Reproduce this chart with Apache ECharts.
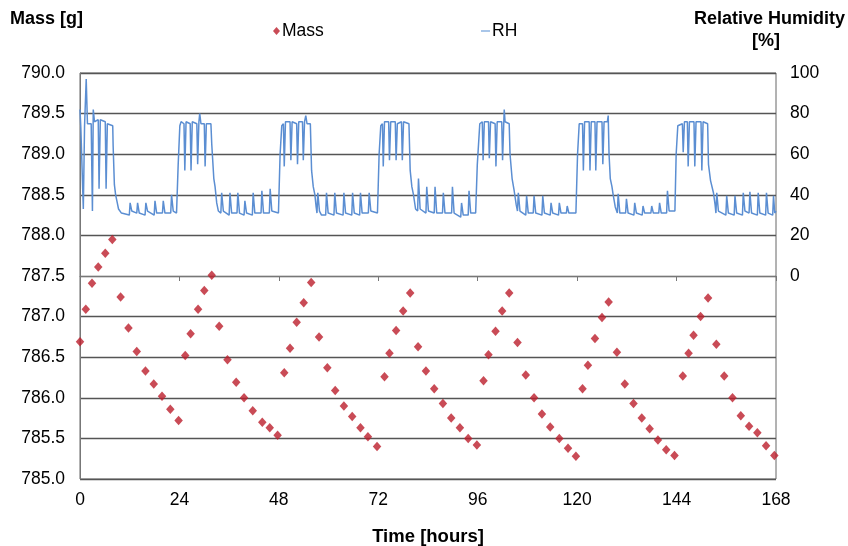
<!DOCTYPE html>
<html><head><meta charset="utf-8">
<script src="https://cdn.jsdelivr.net/npm/echarts@6/dist/echarts.min.js"></script>
<style>html,body{margin:0;padding:0;background:#fff}#c{width:848px;height:546px}</style>
</head><body><div id="c"></div>
<script>
const massHours = [0,1.4,2.9,4.4,6.1,7.8,9.8,11.7,13.7,15.8,17.8,19.8,21.8,23.8,25.4,26.7,28.5,30.0,31.8,33.6,35.6,37.7,39.6,41.7,44.0,45.8,47.7,49.3,50.7,52.3,54.0,55.8,57.7,59.7,61.6,63.7,65.7,67.7,69.5,71.7,73.5,74.7,76.3,78.0,79.7,81.6,83.5,85.5,87.6,89.6,91.7,93.7,95.8,97.4,98.6,100.3,101.9,103.6,105.6,107.6,109.6,111.5,113.5,115.7,117.8,119.7,121.3,122.6,124.3,126.0,127.6,129.6,131.5,133.6,135.6,137.5,139.5,141.5,143.5,145.5,146.9,148.1,149.8,151.6,153.6,155.5,157.5,159.5,161.5,163.5,165.6,167.6];
const massValues = [786.69,787.09,787.41,787.61,787.78,787.95,787.24,786.86,786.57,786.33,786.17,786.02,785.86,785.72,786.52,786.79,787.09,787.32,787.51,786.88,786.47,786.19,786.00,785.84,785.70,785.63,785.54,786.31,786.61,786.93,787.17,787.42,786.75,786.37,786.09,785.90,785.77,785.63,785.52,785.40,786.26,786.55,786.83,787.07,787.29,786.63,786.33,786.11,785.93,785.75,785.63,785.50,785.42,786.21,786.53,786.82,787.07,787.29,786.68,786.28,786.00,785.80,785.64,785.50,785.38,785.28,786.11,786.40,786.73,786.99,787.18,786.56,786.17,785.93,785.75,785.62,785.48,785.36,785.29,786.27,786.55,786.77,787.00,787.23,786.66,786.27,786.00,785.78,785.65,785.57,785.41,785.29];
const rhReadings = [
[0,82],[0.2,73],[0.6,73],[0.8,33],[1.1,74],[1.5,97],[1.8,75],[2.7,75],[3.0,32],[3.2,82],[3.5,76],[4.4,77],[4.6,43],[4.9,77],[6.1,76],[6.3,43],[6.6,75],[7.9,74],[8.0,64],[8.3,45],[8.6,40],[9.0,36],[9.3,33],[10,31],[11.9,30],[12.1,36],[12.5,32],[13.7,31],[13.9,36],[14.3,31],[15.7,30],[15.9,36],[16.3,32],[17.9,30],[18.1,37],[18.5,31],[19.9,31],[20.1,37],[20.5,31],[21.9,31],[22.1,40],[22.5,32],[23.3,31],[23.7,55],[24.1,74],[24.4,76],
[25.1,75],[25.3,52],[25.6,76],[26.6,75],[26.8,52],[27.1,76],[28.2,75],[28.4,55],[28.7,76],[28.9,80],[29.2,75],[30.0,75],[30.2,54],[30.5,75],[31.6,75],[31.8,65],[32.3,48],[32.6,44],[33.0,36],[33.4,32],[34.0,31],[34.2,41],[34.6,32],[36.0,30],[36.2,41],[36.6,31],[37.9,31],[38.1,41],[38.5,31],[39.6,30],[39.8,37],[40.2,31],[41.6,30],[41.8,41],[42.2,31],[43.7,31],[43.9,42],[44.3,31],[45.7,31],[45.9,43],[46.3,32],[47.9,31],[48.3,60],[48.7,74],
[49.1,75],[49.3,54],[49.6,76],[50.7,76],[50.9,57],[51.2,76],[52.3,75],[52.5,55],[52.8,76],[53.7,76],[53.9,57],[54.2,76],[54.5,79],[54.8,75],[55.6,75],[55.9,52],[56.3,44],[56.7,40],[57.0,34],[57.2,31],[57.4,41],[57.8,32],[58.3,30],[59.3,30],[59.5,41],[59.9,31],[61.3,30],[61.5,41],[61.9,31],[63.5,30],[63.7,41],[64.1,31],[65.6,30],[65.8,41],[66.2,31],[67.5,30],[67.7,41],[68.1,31],[69.6,31],[69.8,41],[70.2,32],[71.8,31],[72.2,60],[72.6,74],
[73.0,75],[73.2,54],[73.5,76],[74.5,76],[74.7,57],[75.0,76],[76.1,76],[76.3,57],[76.6,75],[77.6,76],[77.8,57],[78.1,76],[79.4,75],[79.7,52],[80.1,44],[80.5,40],[81.0,33],[81.5,32],[81.7,48],[82.1,33],[83.5,31],[83.7,44],[84.1,32],[85.5,31],[85.7,44],[86.1,31],[87.5,31],[87.7,41],[88.1,31],[89.7,31],[89.9,44],[90.3,31],[91.9,29],[92.1,36],[92.5,30],[93.7,30],[93.9,42],[94.3,31],[95.5,31],[95.9,55],[96.5,75],
[97.1,76],[97.3,57],[97.6,76],[98.6,76],[98.8,58],[99.1,76],[100.2,75],[100.4,54],[100.7,76],[101.8,76],[102.0,57],[102.3,76],[102.4,82],[102.6,76],[103.6,75],[103.8,60],[104.3,48],[104.8,42],[105.3,35],[105.6,32],[105.8,41],[106.2,32],[107.6,30],[107.8,39.5],[108.2,31],[109.4,31],[109.6,39.5],[110.0,31],[111.5,30],[111.7,39.5],[112.1,31],[113.5,30],[113.7,36],[114.1,31],[115.5,30],[115.7,36],[116.1,31],[117.4,31],[117.6,34.5],[118.0,31],[119.7,31],[120.1,60],[120.5,75],
[121.3,75],[121.5,52],[121.8,76],[122.9,76],[123.1,52],[123.4,76],[124.3,76],[124.5,52],[124.8,76],[126.0,76],[126.2,55],[126.5,76],[127.3,76],[127.5,79],[127.7,60],[128.0,48],[128.4,44],[128.7,40],[129.2,34],[129.7,31],[129.9,40.5],[130.3,31],[131.7,31],[131.9,38],[132.3,31],[133.7,30],[133.9,36],[134.3,31],[135.7,30],[135.9,34.5],[136.3,31],[137.8,31],[138.0,34.5],[138.4,31],[139.7,31],[139.9,36],[140.3,31],[141.6,31],[141.8,42],[142.2,32],[143.6,32],[143.9,60],[144.3,74],
[145.4,75],[145.6,61],[145.9,76],[146.6,76],[146.8,54],[147.1,76],[148.2,76],[148.4,54],[148.7,76],[149.9,76],[150.1,52],[150.4,76],[151.5,75],[151.7,55],[152.2,47],[152.9,41],[153.3,35],[153.5,31],[153.7,41],[154.1,32],[155.9,30],[156.1,39.5],[156.5,31],[157.9,30],[158.1,39.5],[158.5,31],[159.9,30],[160.1,41],[160.5,32],[161.5,31],[161.7,41.5],[162.1,31],[163.5,30],[163.7,41],[164.1,31],[165.5,30],[165.7,41],[166.1,31],[167.2,30],[167.4,39.5],[167.7,31],[168,32]
];
const xTicks = {min: 0, max: 168, interval: 24};
const massAxis = {min: 785, max: 790, interval: 0.5};
const rhAxis = {min: -100, max: 100, interval: 20};

const chart = echarts.init(document.getElementById('c'), null, {renderer: 'canvas'});
const FONT = '"Liberation Sans", Arial, sans-serif';
chart.setOption({
  animation: false,
  backgroundColor: '#fff',
  textStyle: {fontFamily: FONT},
  grid: {left: 80, right: 72, top: 73, bottom: 67, containLabel: false, outerBoundsMode: 'none',
         show: true, borderColor: '#666', borderWidth: 1, backgroundColor: 'transparent'},
  legend: [
    {data: ['Mass'], left: 268, top: 17, icon: 'diamond', itemWidth: 7, itemHeight: 8, itemGap: 2,
     textStyle: {fontSize: 17.5, color: '#000', fontFamily: FONT, padding: [0,0,0,-3]}},
    {data: ['RH'], left: 476, top: 17, icon: 'rect', itemWidth: 9, itemHeight: 1.5,
     textStyle: {fontSize: 17.5, color: '#000', fontFamily: FONT, padding: [0,0,0,-3]}}
  ],
  graphic: [
    {type: 'text', left: 10, top: 10, style: {text: 'Mass [g]', font: 'bold 18px ' + FONT, fill: '#000'}},
    {type: 'text', right: 3, top: 10, style: {text: 'Relative Humidity', font: 'bold 18px ' + FONT, fill: '#000'}},
    {type: 'text', x: 766, y: 32, style: {text: '[%]', font: 'bold 18px ' + FONT, fill: '#000', align: 'center', verticalAlign: 'top'}}
  ],
  xAxis: {
    type: 'value', min: xTicks.min, max: xTicks.max, interval: xTicks.interval,
    name: 'Time [hours]', nameLocation: 'middle', nameGap: 48,
    nameTextStyle: {fontSize: 18.5, fontWeight: 'bold', color: '#000', fontFamily: FONT},
    axisLine: {lineStyle: {color: '#777'}},
    axisTick: {show: true, length: 5, lineStyle: {color: '#777'}},
    axisLabel: {fontSize: 17.5, color: '#000', margin: 12, fontFamily: FONT},
    splitLine: {show: false}
  },
  yAxis: [
    {type: 'value', min: massAxis.min, max: massAxis.max, interval: massAxis.interval,
     axisLine: {show: true, lineStyle: {color: '#777'}},
     axisTick: {show: false},
     axisLabel: {fontSize: 17.5, color: '#000', margin: 15, fontFamily: FONT, formatter: v => v.toFixed(1)},
     splitLine: {show: true, lineStyle: {color: '#555', width: 1.3}}},
    {type: 'value', min: rhAxis.min, max: rhAxis.max, interval: rhAxis.interval, position: 'right',
     axisLine: {show: false}, axisTick: {show: false},
     axisLabel: {fontSize: 17.5, color: '#000', margin: 14, fontFamily: FONT, formatter: v => v >= 0 ? String(v) : ''},
     splitLine: {show: false}}
  ],
  series: [
    {name: 'Mass', type: 'scatter', yAxisIndex: 0, symbol: 'diamond', symbolSize: [8.5, 9.5],
     itemStyle: {color: '#BC1E2C'},
     data: massHours.map((h, i) => [h, massValues[i]])},
    {name: 'RH', type: 'line', yAxisIndex: 1, showSymbol: false, symbol: 'none',
     lineStyle: {color: '#5B8ED2', width: 1.5}, itemStyle: {color: '#8DB3E2'},
     data: rhReadings}
  ]
});
</script></body></html>
